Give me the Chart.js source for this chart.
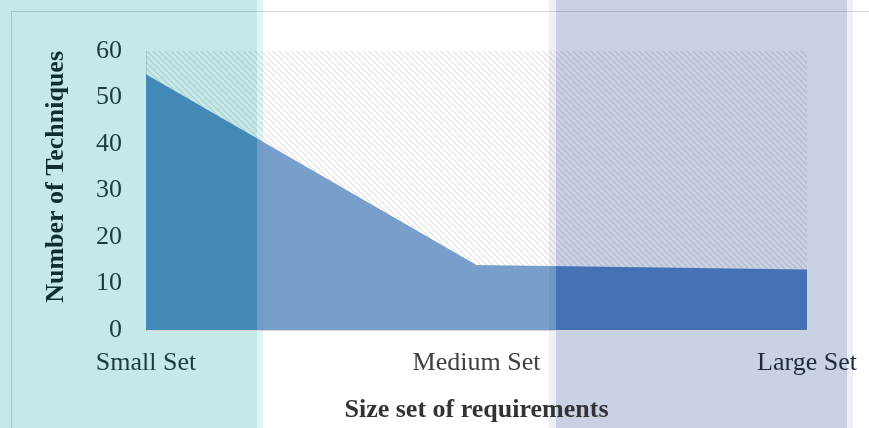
<!DOCTYPE html>
<html>
<head>
<meta charset="utf-8">
<script src="https://cdn.jsdelivr.net/npm/chart.js@4"></script>
<style>
html, body { margin: 0; padding: 0; background: #fff; }
</style>
</head>
<body>
<canvas id="area-chart" width="869" height="428"></canvas>
<script>
// chart data
var aCategories = ['Small Set', 'Medium Set', 'Large Set'];
var aTechniques = [55, 14, 13];
var aCeiling = [60, 60, 60];
var aCategoryColors = ['#1d3b3b', '#404040', '#1e2840'];

var sFont = '"Liberation Serif", "Times New Roman", serif';
var canvas = document.getElementById('area-chart');
var ctx = canvas.getContext('2d');

// diagonal hatch for the empty part up to 60
function makeHatch() {
    var c = document.createElement('canvas');
    c.width = 6;
    c.height = 6;
    var g = c.getContext('2d');
    g.strokeStyle = 'rgba(0,0,0,0.12)';
    g.lineWidth = 1.2;
    g.beginPath();
    g.moveTo(-1, -1); g.lineTo(7, 7);
    g.moveTo(-1, 5); g.lineTo(1, 7);
    g.moveTo(5, -1); g.lineTo(7, 1);
    g.stroke();
    return ctx.createPattern(c, 'repeat');
}

// the area is tinted by the coloured panels lying over the page
function makeAreaFill() {
    var w = 869;
    var grad = ctx.createLinearGradient(0, 0, w, 0);
    var stops = [
        [0, '#4289b8'], [257, '#4289b8'],
        [257, '#6f9bc9'], [263, '#6f9bc9'],
        [263, '#789fcc'], [549, '#789fcc'],
        [549, '#6f94c6'], [556, '#6f94c6'],
        [556, '#4472b5'], [w, '#4472b5']
    ];
    stops.forEach(function(s) { grad.addColorStop(s[0] / w, s[1]); });
    return grad;
}

var panelPlugin = {
    id: 'panels',
    beforeDraw: function(chart) {
        var c = chart.ctx;
        c.save();
        c.fillStyle = '#ffffff';
        c.fillRect(0, 0, 869, 428);
        c.fillStyle = '#c5e9e9';
        c.fillRect(0, 0, 257, 428);
        c.fillStyle = '#e2f4f4';
        c.fillRect(257, 0, 6, 428);
        c.fillStyle = '#eef0f6';
        c.fillRect(549, 0, 7, 428);
        c.fillRect(847, 0, 6, 428);
        c.fillStyle = '#c9d1e5';
        c.fillRect(556, 0, 291, 428);
        // chart frame
        c.strokeStyle = 'rgba(0,0,0,0.14)';
        c.lineWidth = 1;
        c.strokeRect(11.5, 11.5, 900, 430);
        c.restore();
    }
};

new Chart(canvas, {
    type: 'line',
    data: {
        labels: aCategories,
        datasets: [
            {
                label: 'Techniques',
                data: aTechniques,
                fill: 'origin',
                backgroundColor: makeAreaFill(),
                borderWidth: 0,
                pointRadius: 0,
                tension: 0
            }, {
                label: 'Ceiling',
                data: aCeiling,
                fill: '-1',
                backgroundColor: makeHatch(),
                borderWidth: 0,
                pointRadius: 0,
                tension: 0
            }
        ]
    },
    options: {
        responsive: false,
        animation: false,
        layout: { padding: { top: 51, right: 62, left: 0, bottom: 0 } },
        plugins: {
            legend: { display: false },
            tooltip: { enabled: false }
        },
        scales: {
            x: {
                offset: false,
                afterFit: function(scale) {
                    scale.height = 98;
                    scale.paddingLeft = 0;
                    scale.paddingRight = 0;
                },
                grid: { color: 'transparent', drawTicks: false },
                border: { display: true, color: '#d4d4d4', width: 2 },
                ticks: {
                    padding: 18,
                    maxRotation: 0,
                    font: { family: sFont, size: 26 },
                    color: function(c) { return aCategoryColors[c.index]; }
                },
                title: {
                    display: true,
                    text: 'Size set of requirements',
                    color: '#333333',
                    font: { family: sFont, size: 26, weight: 'bold' },
                    padding: { top: 0, bottom: 2 }
                }
            },
            y: {
                min: 0,
                max: 60,
                afterFit: function(scale) { scale.width = 146; },
                grid: { color: 'transparent', drawTicks: false },
                border: { display: true, color: 'rgba(0,0,0,0.12)', width: 1 },
                ticks: {
                    stepSize: 10,
                    padding: 24,
                    font: { family: sFont, size: 26 },
                    color: '#1d3b3b'
                },
                title: {
                    display: true,
                    text: 'Number of Techniques',
                    align: 'end',
                    color: '#0f2e2e',
                    font: { family: sFont, size: 26, weight: 'bold' },
                    padding: { top: 41, bottom: 0 }
                }
            }
        }
    },
    plugins: [panelPlugin]
});
</script>
</body>
</html>
